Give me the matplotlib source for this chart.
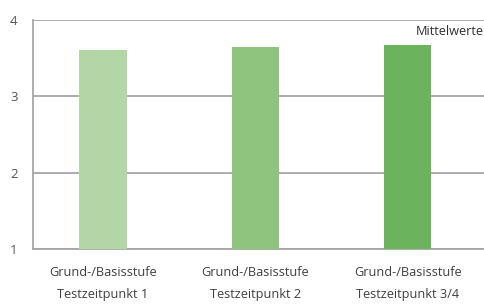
import matplotlib.pyplot as plt

#   data
categories = ['Grund-/Basisstufe\nTestzeitpunkt 1',
              'Grund-/Basisstufe\nTestzeitpunkt 2',
              'Grund-/Basisstufe\nTestzeitpunkt 3/4']
values = [3.61, 3.65, 3.67]
colors = ['#b3d6a6', '#8fc47f', '#6bb45d']

plt.rcParams['font.family'] = ['Open Sans', 'DejaVu Sans']

fig = plt.figure(figsize=(4.84, 3.05), dpi=100)
ax = fig.add_axes([0.068, 0.1836, 0.932, 0.7504])

x = range(len(categories))
ax.bar(x, values, width=0.31, color=colors, zorder=3)

#   axis options
ax.set_ylim(1, 4)
ax.set_xlim(-0.46, 2.5)
ax.set_yticks([1, 2, 3, 4])
ax.set_xticks(list(x))
ax.set_xticklabels(categories, fontsize=9.2, color='#404040', linespacing=1.95)
ax.tick_params(axis='y', length=0, pad=11, labelsize=9.5, labelcolor='#555555')
ax.tick_params(axis='x', length=0, pad=12)
ax.grid(axis='y', color='#a6a6a6', linewidth=1.3, zorder=1)
for side in ['top', 'right']:
    ax.spines[side].set_visible(False)
for side in ['left', 'bottom']:
    ax.spines[side].set_color('#a6a6a6')
    ax.spines[side].set_linewidth(1.3)

ax.text(1.0, 0.95, 'Mittelwerte', transform=ax.transAxes, ha='right',
        va='center', fontsize=9.2, color='#303030')

fig.savefig('out.png', dpi=100)
